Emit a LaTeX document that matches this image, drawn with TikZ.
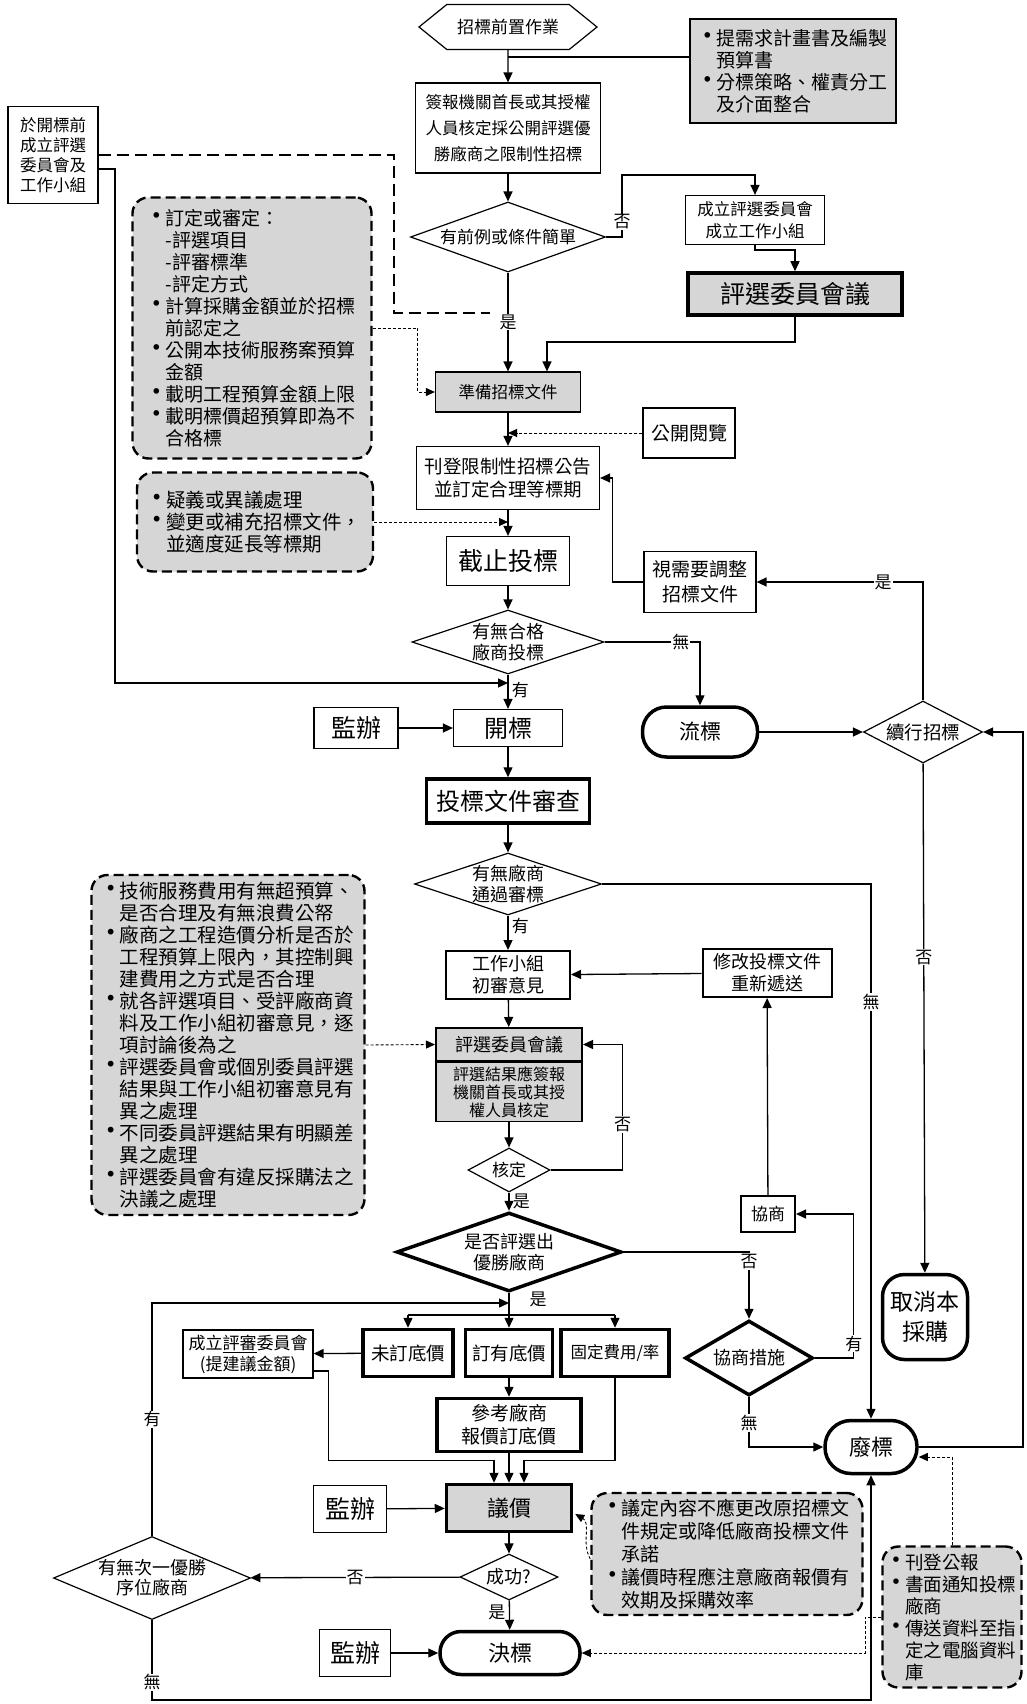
\documentclass[tikz,border=0pt]{standalone}
\usepackage{fontspec}
\setmainfont{Noto Sans CJK TC}
\usetikzlibrary{shapes.geometric, shapes.symbols, arrows.meta, positioning, calc}
\definecolor{shadegray}{RGB}{214,214,214}
\newcommand{\fsz}[2]{\fontsize{#1}{#2}\selectfont}
\newcommand{\bl}{\makebox[17pt][c]{\makebox[0pt][c]{\scalebox{1.4}{\textbullet}}}}
\newcommand{\ind}{\hspace*{17pt}}

\begin{document}
\begin{tikzpicture}[x=1pt, y=-1pt,
    box/.style={draw, line width=1.2pt, inner sep=2pt, align=center},
    bold box/.style={box, line width=3.5pt},
    greyfill/.style={fill=shadegray},
    note/.style={draw, line width=2.4pt, dash pattern=on 10pt off 5pt, rounded corners=16pt, fill=shadegray, align=left, inner sep=5pt},
    cond/.style={draw, diamond, line width=1.2pt, inner sep=0pt, align=center},
    term/.style={draw, line width=3.5pt, rounded corners=#1, inner sep=2pt, align=center},
    conn/.style={line width=1.3pt},
    arr/.style={conn, -{Triangle[length=10pt, width=9pt]}},
    dot arr/.style={line width=0.9pt, densely dashed, -{Triangle[length=9pt, width=8pt]}},
    lbl/.style={fill=white, inner sep=1pt, font=\fsz{17}{19}}
  ]
  \useasboundingbox (0,0) rectangle (1027,1704);

  \node[draw, line width=1.2pt, shape=signal, signal to=west and east, signal pointer angle=78, minimum width=178pt, minimum height=45pt, font=\fsz{17}{20}] (prep) at (508,27) {招標前置作業};
  \node[box, greyfill, align=left, minimum width=206pt, minimum height=104pt, font=\fsz{19}{22}] (need) at (793,71) {\bl 提需求計畫書及編製\\ \ind 預算書\\ \bl 分標策略、權責分工\\ \ind 及介面整合};
  \node[box, minimum width=185pt, minimum height=90pt, font=\fsz{16.5}{26}] (sign) at (508,128) {簽報機關首長或其授權\\人員核定採公開評選優\\勝廠商之限制性招標};
  \node[box, minimum width=90pt, minimum height=97pt, font=\fsz{16.5}{20}] (early) at (53,155) {於開標前\\成立評選\\委員會及\\工作小組};
  \node[cond, aspect=2.8, minimum width=195pt, minimum height=70pt, font=\fsz{17}{20}] (prec) at (508,237) {有前例或條件簡單};
  \node[box, minimum width=139pt, minimum height=49pt, font=\fsz{16.5}{22}] (setup) at (755,220) {成立評選委員會\\成立工作小組};
  \node[bold box, greyfill, minimum width=214pt, minimum height=42pt, font=\fsz{25}{28}] (meet) at (795,294) {評選委員會議};
  \node[note, minimum width=239pt, minimum height=261pt, font=\fsz{19}{22}] (items) at (252,328) {\bl 訂定或審定：\\ \ind -評選項目\\ \ind -評審標準\\ \ind -評定方式\\ \bl 計算採購金額並於招標\\ \ind 前認定之\\ \bl 公開本技術服務案預算\\ \ind 金額\\ \bl 載明工程預算金額上限\\ \bl 載明標價超預算即為不\\ \ind 合格標};
  \node[box, greyfill, minimum width=145pt, minimum height=40pt, font=\fsz{16.5}{20}] (docs) at (508,392) {準備招標文件};
  \node[box, minimum width=92pt, minimum height=50pt, font=\fsz{19}{22}] (view) at (689,433) {公開閱覽};
  \node[box, minimum width=183pt, minimum height=63pt, font=\fsz{18.5}{23}] (pub) at (508,478) {刊登限制性招標公告\\並訂定合理等標期};
  \node[note, minimum width=236pt, minimum height=99pt, font=\fsz{19.5}{22}] (query) at (255,522) {\bl 疑義或異議處理\\ \bl 變更或補充招標文件，\\ \ind 並適度延長等標期};
  \node[box, minimum width=123pt, minimum height=49pt, font=\fsz{25}{28}] (close) at (508,561) {截止投標};
  \node[box, minimum width=112pt, minimum height=61pt, font=\fsz{19}{25}] (adj) at (700,582) {視需要調整\\招標文件};
  \node[cond, aspect=3, minimum width=192pt, minimum height=64pt, font=\fsz{18}{21}] (qual) at (508,642) {有無合格\\廠商投標};
  \node[box, minimum width=84pt, minimum height=41pt, font=\fsz{25}{28}] (sup1) at (356,728) {監辦};
  \node[box, minimum width=109pt, minimum height=37pt, font=\fsz{24}{28}] (open) at (508,728) {開標};
  \node[term=24pt, minimum width=115pt, minimum height=50pt, font=\fsz{21}{24}] (fail) at (700,732) {流標};
  \node[cond, aspect=1.9, minimum width=119pt, minimum height=62pt, font=\fsz{18.5}{21}] (cont) at (923,732) {續行招標};
  \node[bold box, minimum width=163pt, minimum height=44pt, font=\fsz{24}{28}] (review) at (508,801) {投標文件審查};
  \node[cond, aspect=3, minimum width=187pt, minimum height=62pt, font=\fsz{18}{21}] (pass) at (508,884) {有無廠商\\通過審標};
  \node[note, minimum width=273pt, minimum height=340pt, font=\fsz{19.5}{22}] (check) at (228,1045) {\bl 技術服務費用有無超預算、\\ \ind 是否合理及有無浪費公帑\\ \bl 廠商之工程造價分析是否於\\ \ind 工程預算上限內，其控制興\\ \ind 建費用之方式是否合理\\ \bl 就各評選項目、受評廠商資\\ \ind 料及工作小組初審意見，逐\\ \ind 項討論後為之\\ \bl 評選委員會或個別委員評選\\ \ind 結果與工作小組初審意見有\\ \ind 異之處理\\ \bl 不同委員評選結果有明顯差\\ \ind 異之處理\\ \bl 評選委員會有違反採購法之\\ \ind 決議之處理};
  \node[box, line width=2pt, minimum width=124pt, minimum height=48pt, font=\fsz{18}{22}] (prelim) at (508,975) {工作小組\\初審意見};
  \node[box, line width=2pt, minimum width=129pt, minimum height=48pt, font=\fsz{18}{22}] (revise) at (767,973) {修改投標文件\\重新遞送};
  \node[box, line width=2pt, greyfill, minimum width=146pt, minimum height=33pt, font=\fsz{18}{20}] (panel) at (509,1044.5) {評選委員會議};
  \node[box, greyfill, anchor=north, minimum width=146pt, minimum height=59pt, font=\fsz{16}{18}] (panelsub) at (panel.south) {評選結果應簽報\\機關首長或其授\\權人員核定};
  \node[cond, aspect=1.86, minimum width=82pt, minimum height=44pt, font=\fsz{17}{20}] (ok) at (509,1170) {核定};
  \node[box, line width=2pt, minimum width=54pt, minimum height=36pt, font=\fsz{17}{20}] (nego) at (768,1214) {協商};
  \node[cond, line width=3.5pt, aspect=2.85, minimum width=225pt, minimum height=79pt, font=\fsz{18}{21}] (win) at (509,1252) {是否評選出\\優勝廠商};
  \node[term=22pt, minimum width=85pt, minimum height=85pt, font=\fsz{23}{30}] (cancel) at (925,1317) {取消本\\採購};
  \node[cond, line width=3.5pt, aspect=1.7, minimum width=128pt, minimum height=75pt, font=\fsz{18}{21}] (measure) at (749,1358) {協商措施};
  \node[term=26pt, minimum width=92pt, minimum height=53pt, font=\fsz{22}{26}] (void) at (871,1447) {廢標};
  \node[box, minimum width=130pt, minimum height=48pt, font=\fsz{17}{21}] (comm) at (248,1354) {成立\underline{評審}委員會\\(提建議金額)};
  \node[bold box, minimum width=90pt, minimum height=47pt, font=\fsz{18.5}{22}] (nofloor) at (408,1353) {未訂底價};
  \node[bold box, minimum width=87pt, minimum height=47pt, font=\fsz{18.5}{22}] (floor) at (509,1353) {訂有底價};
  \node[bold box, minimum width=108pt, minimum height=47pt, font=\fsz{16.5}{20}] (fixed) at (615,1353) {固定費用/率};
  \node[bold box, minimum width=144pt, minimum height=53pt, font=\fsz{19}{23}] (ref) at (509,1425) {參考廠商\\報價訂底價};
  \node[bold box, greyfill, minimum width=125pt, minimum height=47pt, font=\fsz{22}{26}] (barg) at (509,1508) {議價};
  \node[box, minimum width=73pt, minimum height=47pt, font=\fsz{25}{28}] (sup2) at (350,1509) {監辦};
  \node[cond, aspect=2.13, minimum width=98pt, minimum height=46pt, font=\fsz{18}{21}] (done) at (509,1577) {成功?};
  \node[cond, aspect=2.37, minimum width=197pt, minimum height=83pt, font=\fsz{18}{20}] (next) at (152,1578) {有無次一優勝\\序位廠商};
  \node[term=21pt, minimum width=140pt, minimum height=43pt, font=\fsz{22}{26}] (award) at (510,1653) {決標};
  \node[box, minimum width=71pt, minimum height=47pt, font=\fsz{25}{28}] (sup3) at (355,1653) {監辦};
  \node[note, minimum width=271pt, minimum height=122pt, font=\fsz{19}{23}] (rules) at (727,1554) {\bl 議定內容不應更改原招標文\\ \ind 件規定或降低廠商投標文件\\ \ind 承諾\\ \bl 議價時程應注意廠商報價有\\ \ind 效期及採購效率};
  \node[note, minimum width=139pt, minimum height=141pt, font=\fsz{18.5}{22}] (notice) at (952,1617) {\bl 刊登公報\\ \bl 書面通知投標\\ \ind 廠商\\ \bl 傳送資料至指\\ \ind 定之電腦資料\\ \ind 庫};

  \coordinate (j0) at (508,57);
  \coordinate (j1) at (547,342);
  \coordinate (j2) at (394,313);
  \coordinate (j3) at (508,683);
  \coordinate (fork) at (509,1315);
  \coordinate (merge) at (509,1303);

  \draw[conn] (j0) -- (j0 -| need.west);
  \draw[arr] (prep) -- (sign);
  \draw[arr] (sign) -- (prec);
  \draw[arr] (prec.east) -| (622,175) -| (setup.north);
  \node[lbl] (tno1) at (622,222) {否};
  \draw[arr] (setup.south) |- (795,250) -- (meet.north);
  \draw[arr] (meet.south) |- (j1) -- (j1 |- docs.north);
  \draw[arr] (prec) -- node[lbl] (tyes1) {是} (docs);
  \draw[line width=2pt, dash pattern=on 12pt off 6pt] (early.east) -| (j2) -- ++(96,0);
  \draw[arr] ($(early.east)+(0,14)$) -| (115,683) -- (j3);
  \draw[dot arr] (items.east) -| ($(docs.west)+(-17,0)$) -- (docs.west);
  \draw[arr] (docs) -- (pub);
  \draw[dot arr] (view.west) -- (view.west -| pub.north);
  \draw[arr] (pub) -- (close);
  \draw[dot arr] (query.east) -- (query.east -| close.north);
  \draw[arr] (adj.west) -- ++(-31,0) |- (pub.east);
  \draw[arr] (close) -- (qual);
  \draw[arr] (qual.east) -| node[lbl, pos=0.4] (tno2) {無} (fail.north);
  \draw[arr] (qual) -- node[pos=0.45, right, font=\fsz{17}{19}] (tyes2) {有} (open);
  \draw[arr] (sup1) -- (open);
  \draw[arr] (fail) -- (cont);
  \draw[arr] (cont.north) |- node[lbl, pos=0.62] (tyes3) {是} (adj.east);
  \draw[arr] (cont) -- node[lbl, pos=0.38] (tno3) {否} (cancel);
  \draw[arr] (void.east) -| ($(cont.east)+(40,0)$) -- (cont.east);
  \draw[arr] (open) -- (review);
  \draw[arr] (review) -- (pass);
  \draw[arr] (pass.east) -| node[lbl, pos=0.61] (tno4) {無} (void.north);
  \draw[arr] (pass) -- node[pos=0.3, right, font=\fsz{17}{19}] (tyes4) {有} (prelim);
  \draw[arr] (revise) -- (prelim);
  \draw[arr] (nego) -- (revise);
  \draw[arr] (prelim) -- (panel);
  \draw[dot arr] (check.east) -- (panel.west);
  \draw[arr] (panelsub) -- (ok);
  \draw[arr] (ok.east) -- ++(72,0) |- node[lbl, pos=0.18] (tno5) {否} (panel.east);
  \draw[arr] (ok) -- node[pos=0.5, right, font=\fsz{17}{19}] (tyes5) {是} (win);
  \draw[arr] (win.east) -| node[lbl, pos=0.57] (tno6) {否} (measure.north);
  \draw[arr] (measure.east) -- ++(39,0) |- node[lbl, pos=0.05] (tyes6) {有} (nego.east);
  \draw[arr] (measure.south) |- node[lbl, pos=0.26] (tno7) {無} (void.west);
  \draw[conn] (win.south) -- (fork);
  \draw[conn] (nofloor.north |- fork) -- (fixed.north |- fork);
  \draw[arr] (nofloor.north |- fork) -- (nofloor.north);
  \draw[arr] (fork) -- (floor.north);
  \draw[arr] (fixed.north |- fork) -- (fixed.north);
  \node[font=\fsz{17}{19}] (tyes7) at (538,1299) {是};
  \draw[arr] (next.north) |- node[lbl, pos=0.25] (tyes8) {有} (merge);
  \draw[arr] (nofloor) -- (comm);
  \draw[arr] ($(comm.east)+(0,17)$) -- ++(15,0) |- ($(barg.north)+(-15,-22)$) -- ($(barg.north)+(-15,0)$);
  \draw[arr] (floor) -- (ref);
  \draw[arr] (ref) -- (barg);
  \draw[arr] (fixed.south) |- ($(barg.north)+(15,-22)$) -- ($(barg.north)+(15,0)$);
  \draw[arr] (sup2) -- (barg);
  \draw[arr] (barg) -- (done);
  \draw[arr] (done) -- node[lbl] (tno8) {否} (next);
  \draw[arr] (done) -- node[pos=0.4, left, font=\fsz{17}{19}] (tyes9) {是} (award);
  \draw[arr] (sup3) -- (award);
  \draw[arr] (next.south) -- node[lbl, pos=0.78] (tno9) {無} (152,1700) -| (void.south);
  \draw[dot arr] (notice.north) |- ($(void.east)+(0,10)$);
  \draw[dot arr] (notice.west) -- ++(-16,0) |- (award.east);
  \draw[dot arr] ($(rules.west)+(0,5)$) to[out=120, in=-30] ($(barg.east)+(2,6)$);
\end{tikzpicture}
\end{document}
